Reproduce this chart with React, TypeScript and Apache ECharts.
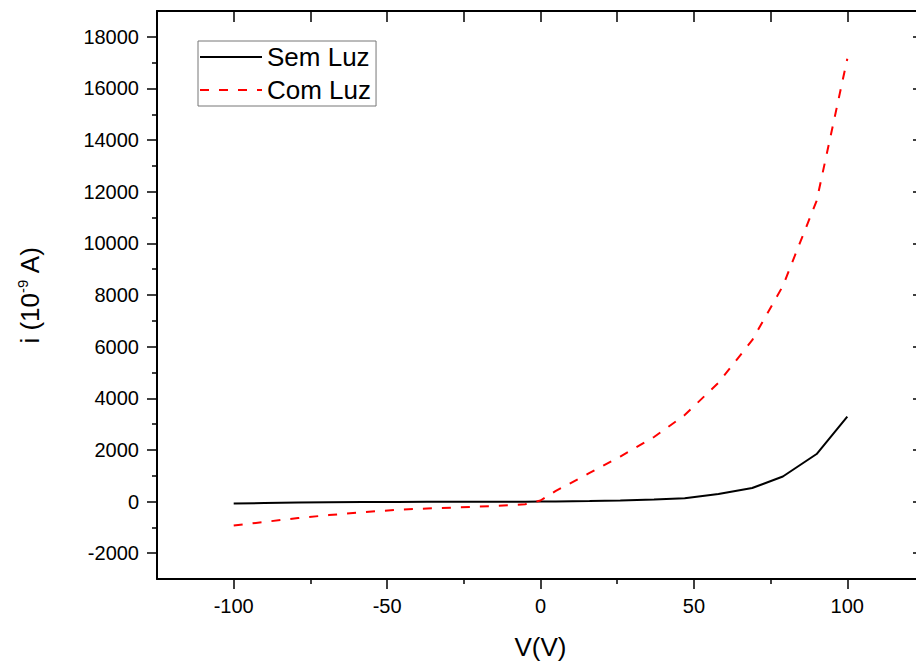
import React, { useEffect, useRef } from "react";
import * as echarts from "echarts";

// Voltage (V) sample points
const voltages = [-100, -90, -79, -69, -58, -47, -37, -26, -16, -5, 0, 5, 16, 26, 37, 47, 58, 69, 79, 90, 100];
// Current (1e-9 A) without light
const semLuz = [-80, -55, -40, -28, -20, -15, -12, -10, -7, -4, 0, 3, 20, 45, 75, 130, 290, 525, 970, 1840, 3290];
// Current (1e-9 A) with light
const comLuz = [-930, -790, -640, -525, -415, -320, -270, -222, -181, -105, 40, 410, 1110, 1740, 2500, 3350, 4600, 6250, 8350, 11650, 17150];

const xMajorTicks = [-100, -50, 0, 50, 100];
const xMinorTicks = [-75, -25, 25, 75];
const xTopTicks = [-100, -75, -50, -25, 0, 25, 50, 75, 100];
const yMajorTicks = [-2000, 0, 2000, 4000, 6000, 8000, 10000, 12000, 14000, 16000, 18000];
const yMinorTicks = [-1000, 1000, 3000, 5000, 7000, 9000, 11000, 13000, 15000, 17000];

const FONT = "'Liberation Sans', Arial, sans-serif";

export default function App() {
  const ref = useRef<HTMLDivElement>(null);
  useEffect(() => {
    if (!ref.current) return;
    const chart = echarts.init(ref.current, undefined, { renderer: "svg" });
    const xRange = { min: -125, max: 125 };
    const yRange = { min: -3000, max: 19000 };
    const lineCol = "#000";
    chart.setOption({
      animation: false,
      backgroundColor: "#fff",
      textStyle: { fontFamily: FONT },
      grid: { left: 157, top: 11, width: 767, height: 572, containLabel: false },
      legend: {
        orient: "vertical",
        left: 198,
        top: 41,
        itemWidth: 62,
        itemHeight: 14,
        itemGap: 5,
        padding: [2, 5, 2, 1],
        borderColor: "#777",
        borderWidth: 1,
        itemStyle: { opacity: 0 },
        textStyle: { fontSize: 26, lineHeight: 28, color: "#000", fontFamily: FONT },
        data: ["Sem Luz", "Com Luz"],
      },
      xAxis: [
        {
          type: "value",
          position: "bottom",
          ...xRange,
          name: "V(V)",
          nameLocation: "middle",
          nameGap: 55,
          nameTextStyle: { fontSize: 26, color: "#000", fontFamily: FONT },
          axisLine: { show: true, onZero: false, lineStyle: { color: lineCol, width: 2 } },
          axisTick: { show: true, inside: false, length: 10, customValues: xMajorTicks, lineStyle: { color: lineCol, width: 1.5 } },
          axisLabel: { show: true, customValues: xMajorTicks, margin: 17, fontSize: 20, color: "#000", fontFamily: FONT, formatter: (v: number) => String(v) },
          splitLine: { show: false },
        },
        {
          type: "value",
          position: "bottom",
          ...xRange,
          axisLine: { show: false, onZero: false },
          axisTick: { show: true, inside: false, length: 5, customValues: xMinorTicks, lineStyle: { color: lineCol, width: 1.5 } },
          axisLabel: { show: false },
          splitLine: { show: false },
        },
        {
          type: "value",
          position: "top",
          ...xRange,
          axisLine: { show: true, onZero: false, lineStyle: { color: lineCol, width: 2 } },
          axisTick: { show: true, inside: true, length: 11, customValues: xTopTicks, lineStyle: { color: lineCol, width: 1.5 } },
          axisLabel: { show: false },
          splitLine: { show: false },
        },
      ],
      yAxis: [
        {
          type: "value",
          position: "left",
          ...yRange,
          name: "i (10{sup|-9} A)",
          nameLocation: "middle",
          nameGap: 112,
          nameTextStyle: {
            fontSize: 26,
            lineHeight: 30,
            color: "#000",
            fontFamily: FONT,
            rich: { sup: { fontSize: 15, lineHeight: 15, verticalAlign: "top", color: "#000", fontFamily: FONT } },
          },
          axisLine: { show: true, onZero: false, lineStyle: { color: lineCol, width: 2 } },
          axisTick: { show: true, inside: false, length: 10, customValues: yMajorTicks, lineStyle: { color: lineCol, width: 1.5 } },
          axisLabel: { show: true, customValues: yMajorTicks, margin: 18, fontSize: 20, color: "#000", fontFamily: FONT, formatter: (v: number) => String(v) },
          splitLine: { show: false },
        },
        {
          type: "value",
          position: "left",
          ...yRange,
          axisLine: { show: false, onZero: false },
          axisTick: { show: true, inside: false, length: 5, customValues: yMinorTicks, lineStyle: { color: lineCol, width: 1.5 } },
          axisLabel: { show: false },
          splitLine: { show: false },
        },
        {
          type: "value",
          position: "right",
          ...yRange,
          axisLine: { show: true, onZero: false, lineStyle: { color: lineCol, width: 2 } },
          axisTick: { show: true, inside: true, length: 11, customValues: yMajorTicks, lineStyle: { color: lineCol, width: 1.5 } },
          axisLabel: { show: false },
          splitLine: { show: false },
        },
      ],
      series: [
        {
          name: "Sem Luz",
          type: "line",
          xAxisIndex: 0,
          yAxisIndex: 0,
          symbol: "none",
          data: voltages.map((v, i) => [v, semLuz[i]]),
          itemStyle: { color: "#000" },
          lineStyle: { color: "#000", width: 2, type: "solid" },
        },
        {
          name: "Com Luz",
          type: "line",
          xAxisIndex: 0,
          yAxisIndex: 0,
          symbol: "none",
          data: voltages.map((v, i) => [v, comLuz[i]]),
          itemStyle: { color: "#ff0000" },
          lineStyle: { color: "#ff0000", width: 2, type: [9, 10] },
        },
      ],
    });
    return () => chart.dispose();
  }, []);
  return (
    <div style={{ position: "fixed", left: 0, top: 0, width: 916, height: 665, overflow: "hidden", background: "#fff" }}>
      <div ref={ref} style={{ width: 940, height: 665 }} />
    </div>
  );
}
